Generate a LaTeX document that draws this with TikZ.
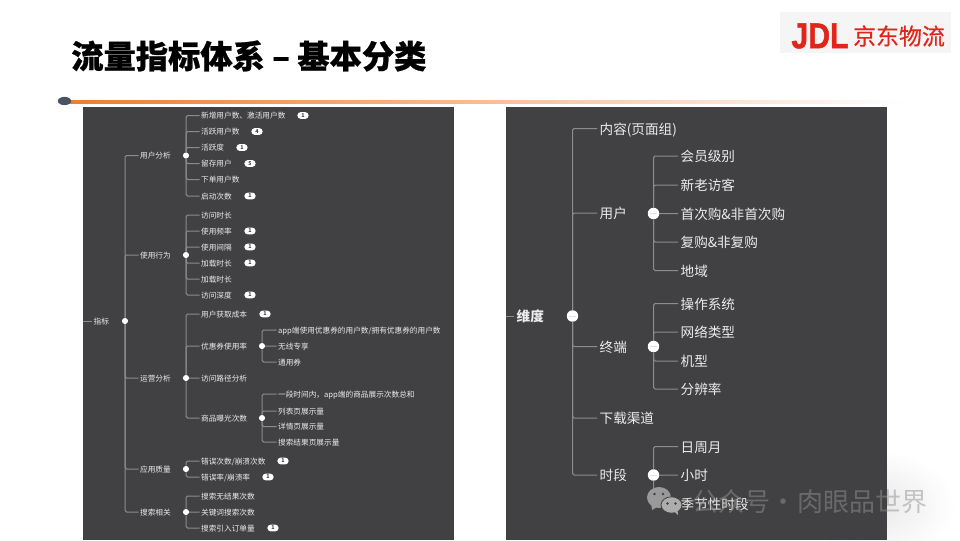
\documentclass[tikz,border=0pt]{standalone}
\usepackage{fontspec}
\setmainfont{Noto Sans CJK SC}
\newfontfamily\logofont[BoldFeatures={FakeBold=1.2}]{Liberation Sans}
\newfontfamily\titlefont[BoldFeatures={FakeBold=0.7}]{Noto Sans CJK SC}
\newfontfamily\logocjk[UprightFeatures={FakeBold=0.4}]{Noto Sans CJK SC}
\usetikzlibrary{backgrounds,shapes.geometric}
\definecolor{panel}{HTML}{414042}
\definecolor{conn}{HTML}{8C8C8C}
\definecolor{leaftext}{HTML}{ECECEC}
\definecolor{jdred}{HTML}{E1251B}
\definecolor{orangeline}{HTML}{ED7D31}
\definecolor{dotblue}{HTML}{44546A}
\tikzset{
  panelbox/.style={fill=panel,draw=none},
  link/.style={draw=conn,line width=0.75pt,rounded corners=1.2pt},
  smalltext/.style={anchor=west,inner sep=0pt,outer xsep=1.2pt,text=leaftext,font=\fontsize{5.75}{6}\selectfont,text height=5.5pt,text depth=.5pt},
  bigtext/.style={anchor=west,inner sep=0pt,outer xsep=2pt,text=leaftext,font=\fontsize{10.2}{12}\selectfont,text height=9.3pt,text depth=.6pt},
  smalldot/.style={circle,fill=white,inner sep=0pt,minimum size=4.6pt},
  bigdot/.style={circle,fill=white,inner sep=0pt,minimum size=8.6pt,path picture={\draw[black!12,line width=.3pt] (-2.4pt,0)--(2.4pt,0);}},
  pill/.style={fill=white,rounded corners=2.4pt,inner sep=0pt,minimum width=8.4pt,minimum height=5pt,text=panel,font=\fontsize{4}{4}\selectfont\bfseries},
  markword/.style={inner sep=0pt,text=gray!85,opacity=.5,font=\fontsize{19.5}{20}\selectfont},
}
% name, parent, x, y, text, style
\newcommand{\kid}[6]{%
  \node[#6] (#1) at (#3,#4) {#5};
  \begin{scope}[on background layer]\draw[link] (#2) |- (#1.west);\end{scope}}
\newcommand{\pillat}[4]{\node[pill] (#1) at (#2,#3) {#4};}
\begin{document}
\begin{tikzpicture}[x=0.75pt,y=-0.75pt]
\useasboundingbox (0,0) rectangle (960,540);
\begin{scope}[on background layer]
  \fill[white] (0,0) rectangle (960,540);
  \shade[inner color=black!9,outer color=white] (875,505) ellipse [x radius=80,y radius=55];
  \fill[panelbox] (83,107) rectangle (454,540);
  \fill[panelbox] (506,107) rectangle (887,540);
\end{scope}
% title
\node[anchor=west,inner sep=0pt,font=\fontsize{24.2}{28}\selectfont\titlefont\bfseries] (title) at (71,56) {流量指标体系 – 基本分类};
% rule
\shade[left color=orangeline,right color=white] (68,100) rectangle (905,103);
\node[ellipse,fill=dotblue,inner sep=0pt,minimum width=10pt,minimum height=6.2pt] (ruledot) at (64.5,101) {};
% logo
\fill[black!4] (780,12) rectangle (951,53);
\node[inner sep=0pt,text=jdred,xscale=.84,font=\logofont\fontsize{27}{27}\selectfont\bfseries] (jdl) at (820,36) {JDL};
\node[inner sep=0pt,text=jdred,font=\logocjk\fontsize{17.2}{18}\selectfont] (jdname) at (899,36) {京东物流};

% ---------- left tree
\coordinate (lstub) at (83,321);
\node[smalltext] (lroot) at (92,321) {指标};
\begin{scope}[on background layer]\draw[link] (lstub) -- (lroot.west);\end{scope}
\node[smalldot] (ld) at (125,321) {};
\kid{a}{ld}{138.5}{155.5}{用户分析}{smalltext}
\kid{b}{ld}{138.5}{255}{使用行为}{smalltext}
\kid{c}{ld}{138.5}{378}{运营分析}{smalltext}
\kid{d}{ld}{138.5}{469}{应用质量}{smalltext}
\kid{e}{ld}{138.5}{512}{搜索相关}{smalltext}
\node[smalldot] (ad) at (186,155.5) {};
\node[smalldot] (bd) at (186,255) {};
\node[smalldot] (cd) at (186,378) {};
\node[smalldot] (dd) at (186,469) {};
\node[smalldot] (ed) at (186,512) {};
\kid{a1}{ad}{199.5}{115.5}{新增用户数、激活用户数}{smalltext}
\kid{a2}{ad}{199.5}{131.5}{活跃用户数}{smalltext}
\kid{a3}{ad}{199.5}{147.5}{活跃度}{smalltext}
\kid{a4}{ad}{199.5}{163.5}{留存用户}{smalltext}
\kid{a5}{ad}{199.5}{179.5}{下单用户数}{smalltext}
\kid{a6}{ad}{199.5}{196}{启动次数}{smalltext}
\pillat{pa1}{303}{115.5}{1}
\pillat{pa2}{257}{131.5}{4}
\pillat{pa3}{242}{147.5}{1}
\pillat{pa4}{250}{163.5}{5}
\pillat{pa6}{250}{196}{1}
\kid{b1}{bd}{199.5}{215}{访问时长}{smalltext}
\kid{b2}{bd}{199.5}{231}{使用频率}{smalltext}
\kid{b3}{bd}{199.5}{247}{使用间隔}{smalltext}
\kid{b4}{bd}{199.5}{263}{加载时长}{smalltext}
\kid{b5}{bd}{199.5}{279}{加载时长}{smalltext}
\kid{b6}{bd}{199.5}{295}{访问深度}{smalltext}
\pillat{pb2}{250}{231}{1}
\pillat{pb3}{250}{247}{1}
\pillat{pb4}{250}{263}{1}
\pillat{pb6}{250}{295}{1}
\kid{c1}{cd}{199.5}{314}{用户获取成本}{smalltext}
\kid{c2}{cd}{199.5}{346}{优惠券使用率}{smalltext}
\kid{c3}{cd}{199.5}{378}{访问路径分析}{smalltext}
\kid{c4}{cd}{199.5}{418}{商品曝光次数}{smalltext}
\pillat{pc1}{265}{314}{1}
\node[smalldot] (c2d) at (262,346) {};
\node[smalldot] (c4d) at (262,418) {};
\kid{c21}{c2d}{276.5}{330}{app端使用优惠券的用户数/拥有优惠券的用户数}{smalltext}
\kid{c22}{c2d}{276.5}{346}{无线专享}{smalltext}
\kid{c23}{c2d}{276.5}{362}{通用券}{smalltext}
\kid{c41}{c4d}{276.5}{394}{一段时间内，app端的商品展示次数总和}{smalltext}
\kid{c42}{c4d}{276.5}{411}{列表页展示量}{smalltext}
\kid{c43}{c4d}{276.5}{426.5}{详情页展示量}{smalltext}
\kid{c44}{c4d}{276.5}{442}{搜索结果页展示量}{smalltext}
\kid{d1}{dd}{199.5}{461}{错误次数/崩溃次数}{smalltext}
\kid{d2}{dd}{199.5}{477}{错误率/崩溃率}{smalltext}
\pillat{pd1}{283}{461}{1}
\pillat{pd2}{268}{477}{1}
\kid{e1}{ed}{199.5}{496}{搜索无结果次数}{smalltext}
\kid{e2}{ed}{199.5}{512}{关键词搜索次数}{smalltext}
\kid{e3}{ed}{199.5}{528}{搜索引入订单量}{smalltext}
\pillat{pe3}{273}{528}{1}

% ---------- right tree
\coordinate (rstub) at (506,316);
\node[bigtext,font=\fontsize{10.2}{12}\selectfont\bfseries] (rroot) at (514,316) {维度};
\begin{scope}[on background layer]\draw[link] (rstub) -- (rroot.west);\end{scope}
\node[bigdot] (rd) at (572.5,316) {};
\kid{p}{rd}{597}{128.5}{内容(页面组)}{bigtext}
\kid{q}{rd}{597}{213}{用户}{bigtext}
\kid{r}{rd}{597}{346.5}{终端}{bigtext}
\kid{s}{rd}{597}{418}{下载渠道}{bigtext}
\kid{t}{rd}{597}{475}{时段}{bigtext}
\node[bigdot] (qd) at (653.5,213.5) {};
\node[bigdot] (rdd) at (653.5,346.5) {};
\node[bigdot] (td) at (653.5,475) {};
\kid{q1}{qd}{678}{156}{会员级别}{bigtext}
\kid{q2}{qd}{678}{185}{新老访客}{bigtext}
\kid{q3}{qd}{678}{213.5}{首次购\&非首次购}{bigtext}
\kid{q4}{qd}{678}{242}{复购\&非复购}{bigtext}
\kid{q5}{qd}{678}{270.5}{地域}{bigtext}
\kid{r1}{rdd}{678}{303.5}{操作系统}{bigtext}
\kid{r2}{rdd}{678}{332}{网络类型}{bigtext}
\kid{r3}{rdd}{678}{361}{机型}{bigtext}
\kid{r4}{rdd}{678}{389}{分辨率}{bigtext}
\kid{t1}{td}{678}{446.5}{日周月}{bigtext}
\kid{t2}{td}{678}{475}{小时}{bigtext}
\kid{t3}{td}{678}{504}{季节性时段}{bigtext}

% ---------- watermark
\fill[black!40] (659,497.5) ellipse [x radius=12,y radius=10.5];
\fill[black!40] (651,503) -- (652,510) -- (659,506) -- cycle;
\fill[panel] (654.5,494) circle (1.3);
\fill[panel] (663,494) circle (1.3);
\fill[black!32,draw=panel,line width=.6pt] (671.5,505) ellipse [x radius=10.5,y radius=8.2];
\fill[black!32] (674,511) -- (678,515) -- (677.5,510) -- cycle;
\fill[panel] (667.5,503.5) circle (1.3);
\fill[panel] (675.5,503.5) circle (1.3);
\node[markword,anchor=west] (mark) at (692,502) {公众号\kern.5pt·\kern.5pt肉眼品世界};
\end{tikzpicture}
\end{document}
